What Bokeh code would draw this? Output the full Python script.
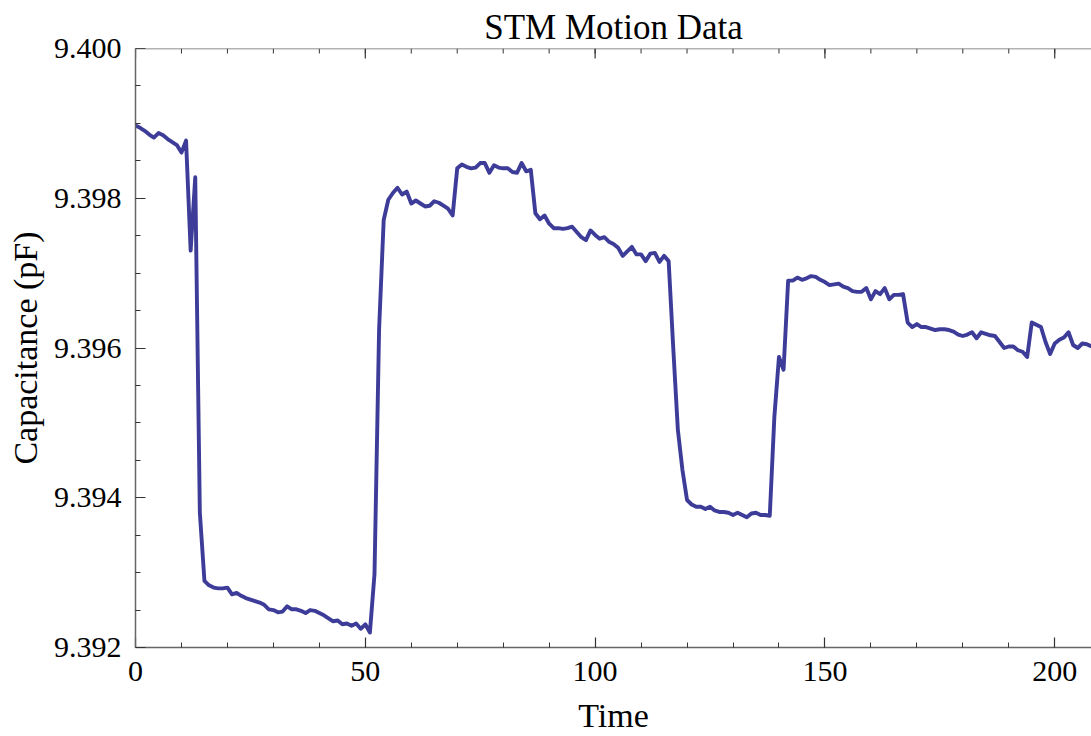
import math

from bokeh.plotting import figure
from bokeh.models import FixedTicker, PrintfTickFormatter, Range1d, Span
from bokeh.embed import file_html
from bokeh.resources import INLINE

# Capacitance trace sampled once per time step
time = list(range(209))
capacitance = [
    9.39897, 9.39894, 9.39890, 9.39885, 9.39881, 9.39887, 9.39884, 9.39879, 9.39875, 9.39871,
    9.39861, 9.39877, 9.39730, 9.39828, 9.39380, 9.39289, 9.39283, 9.39280, 9.39279, 9.39279,
    9.39280, 9.39271, 9.39273, 9.39269, 9.39266, 9.39264, 9.39262, 9.39260, 9.39257, 9.39251,
    9.39250, 9.39247, 9.39248, 9.39255, 9.39251, 9.39251, 9.39249, 9.39246, 9.39250, 9.39249,
    9.39246, 9.39243, 9.39239, 9.39235, 9.39236, 9.39231, 9.39232, 9.39229, 9.39232, 9.39225,
    9.39231, 9.39220, 9.39298, 9.39625, 9.39771, 9.39798, 9.39807, 9.39814, 9.39805, 9.39809,
    9.39793, 9.39797, 9.39793, 9.39789, 9.39790, 9.39796, 9.39794, 9.39790, 9.39786, 9.39777,
    9.39840, 9.39845, 9.39842, 9.39840, 9.39841, 9.39847, 9.39847, 9.39834, 9.39844, 9.39841,
    9.39840, 9.39840, 9.39835, 9.39834, 9.39847, 9.39836, 9.39838, 9.39780, 9.39772, 9.39777,
    9.39766, 9.39760, 9.39760, 9.39759, 9.39760, 9.39762, 9.39755, 9.39748, 9.39744, 9.39757,
    9.39751, 9.39746, 9.39748, 9.39742, 9.39739, 9.39734, 9.39723, 9.39729, 9.39735, 9.39725,
    9.39725, 9.39716, 9.39726, 9.39727, 9.39715, 9.39723, 9.39716, 9.39600, 9.39491, 9.39437,
    9.39397, 9.39391, 9.39388, 9.39388, 9.39385, 9.39388, 9.39383, 9.39381, 9.39381, 9.39380,
    9.39377, 9.39380, 9.39377, 9.39374, 9.39379, 9.39380, 9.39377, 9.39377, 9.39376, 9.39508,
    9.39588, 9.39571, 9.39690, 9.39690, 9.39694, 9.39691, 9.39693, 9.39696, 9.39695, 9.39691,
    9.39688, 9.39684, 9.39685, 9.39686, 9.39682, 9.39680, 9.39676, 9.39675, 9.39675, 9.39680,
    9.39665, 9.39676, 9.39672, 9.39680, 9.39665, 9.39671, 9.39671, 9.39672, 9.39634, 9.39628,
    9.39632, 9.39628, 9.39628, 9.39626, 9.39624, 9.39625, 9.39625, 9.39624, 9.39622, 9.39618,
    9.39616, 9.39618, 9.39621, 9.39613, 9.39621, 9.39619, 9.39617, 9.39616, 9.39608, 9.39600,
    9.39602, 9.39602, 9.39597, 9.39595, 9.39588, 9.39634, 9.39631, 9.39628, 9.39608, 9.39592,
    9.39606, 9.39611, 9.39614, 9.39621, 9.39604, 9.39600, 9.39606, 9.39605, 9.39602,
]

x_major_ticks = [0, 50, 100, 150, 200]
x_minor_ticks = [0, 10, 20, 30, 40, 50, 60, 70, 80, 90, 100, 110, 120, 130, 140, 150,
                 160, 170, 180, 190, 200, 210]
y_major_ticks = [9.392, 9.394, 9.396, 9.398, 9.400]
y_minor_ticks = [9.3925, 9.393, 9.3935, 9.3945, 9.395, 9.3955, 9.3965, 9.397, 9.3975,
                 9.3985, 9.399, 9.3995]

X_START, X_END = 0, 208
Y_START, Y_END = 9.392, 9.400

SERIF = "Liberation Serif"
FRAME = "#666666"
TICK = "#333333"
LINE = "#3d3d99"

p = figure(
    width=1091, height=736,
    x_range=Range1d(X_START, X_END), y_range=Range1d(Y_START, Y_END),
    title="STM Motion Data",
    x_axis_label="Time", y_axis_label="Capacitance (pF)",
    output_backend="svg", toolbar_location=None,
    min_border_left=135, min_border_right=0, min_border_top=48, min_border_bottom=0,
)
p.outline_line_color = None
p.xgrid.visible = False
p.ygrid.visible = False

p.title.text_font = SERIF
p.title.text_font_size = "35px"
p.title.text_font_style = "normal"
p.title.align = "center"
p.title.text_color = "black"
p.title.standoff = 4

bottom = p.xaxis[0]
left = p.yaxis[0]

bottom.ticker = FixedTicker(ticks=x_major_ticks, minor_ticks=x_minor_ticks)
left.ticker = FixedTicker(ticks=y_major_ticks, minor_ticks=y_minor_ticks)
left.formatter = PrintfTickFormatter(format="%.3f")

for ax in (bottom, left):
    ax.axis_line_color = FRAME
    ax.axis_line_width = 1.5
    ax.major_tick_line_color = TICK
    ax.minor_tick_line_color = TICK
    ax.major_tick_line_width = 1.2
    ax.minor_tick_line_width = 1.0
    ax.major_tick_in = 10
    ax.major_tick_out = 0
    ax.minor_tick_in = 5
    ax.minor_tick_out = 0
    ax.major_label_text_font = SERIF
    ax.major_label_text_font_size = "30px"
    ax.major_label_text_color = "black"
    ax.axis_label_text_font = SERIF
    ax.axis_label_text_font_size = "34px"
    ax.axis_label_text_font_style = "normal"
    ax.axis_label_text_color = "black"

bottom.major_label_standoff = 14
bottom.axis_label_standoff = 13
left.major_label_standoff = 14
left.axis_label_standoff = 7

# Top edge of the frame: a rule with inward ticks at the same positions as below
p.add_layout(Span(location=Y_END, dimension="width", line_color=FRAME, line_width=1.5))
p.ray(x=x_major_ticks, y=[Y_END] * len(x_major_ticks), length=10, length_units="screen",
      angle=-math.pi / 2, line_color=TICK, line_width=1.2)
p.ray(x=x_minor_ticks, y=[Y_END] * len(x_minor_ticks), length=5, length_units="screen",
      angle=-math.pi / 2, line_color=TICK, line_width=1.0)

p.line(time, capacitance, line_color=LINE, line_width=3.9, line_join="round")

open("out.html", "w").write(file_html(p, INLINE))
